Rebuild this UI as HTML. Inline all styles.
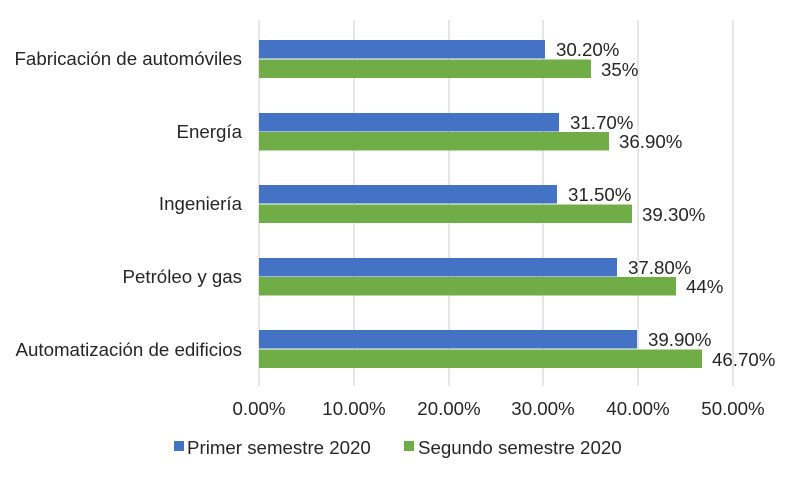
<!DOCTYPE html>
<html><head><meta charset="utf-8"><style>
body{margin:0;background:#fff;}
svg text{font-family:"Liberation Sans",Arial,sans-serif;fill:#262626;}
</style></head><body>
<svg width="788" height="477" viewBox="0 0 788 477" xmlns="http://www.w3.org/2000/svg">
<rect width="788" height="477" fill="#fff"/>
<g stroke="#d9d9d9" stroke-width="1.3">
<line x1="259" y1="20" x2="259" y2="386"/>
<line x1="354" y1="20" x2="354" y2="386"/>
<line x1="449" y1="20" x2="449" y2="386"/>
<line x1="543" y1="20" x2="543" y2="386"/>
<line x1="638" y1="20" x2="638" y2="386"/>
<line x1="733" y1="20" x2="733" y2="386"/>
</g>
<g>
<rect x="259" y="40" width="286" height="18.5" fill="#4472C4"/>
<rect x="259" y="59.5" width="332" height="18.5" fill="#70AD47"/>
<rect x="259" y="113" width="300" height="18.5" fill="#4472C4"/>
<rect x="259" y="132" width="350" height="18.5" fill="#70AD47"/>
<rect x="259" y="185" width="298" height="18.5" fill="#4472C4"/>
<rect x="259" y="204.5" width="373" height="18.5" fill="#70AD47"/>
<rect x="259" y="258" width="358" height="18.5" fill="#4472C4"/>
<rect x="259" y="277" width="417" height="18.5" fill="#70AD47"/>
<rect x="259" y="330" width="378" height="18.5" fill="#4472C4"/>
<rect x="259" y="349.5" width="443" height="18.5" fill="#70AD47"/>
</g>
<g font-size="18.7">
<text x="556" y="56">30.20%</text>
<text x="601" y="76">35%</text>
<text x="570" y="129">31.70%</text>
<text x="619" y="148">36.90%</text>
<text x="568" y="201">31.50%</text>
<text x="642" y="221">39.30%</text>
<text x="628" y="274">37.80%</text>
<text x="686" y="293">44%</text>
<text x="648" y="346">39.90%</text>
<text x="712" y="366">46.70%</text>
</g>
<g font-size="18.7" text-anchor="end">
<text x="242" y="65">Fabricación de automóviles</text>
<text x="242" y="138">Energía</text>
<text x="242" y="210">Ingeniería</text>
<text x="242" y="283">Petróleo y gas</text>
<text x="242" y="356">Automatización de edificios</text>
</g>
<g font-size="18.7" text-anchor="middle">
<text x="259" y="415">0.00%</text>
<text x="354" y="415">10.00%</text>
<text x="449" y="415">20.00%</text>
<text x="543" y="415">30.00%</text>
<text x="638" y="415">40.00%</text>
<text x="733" y="415">50.00%</text>
</g>
<rect x="174" y="441" width="10" height="10" fill="#4472C4"/>
<text x="187" y="454" font-size="18.7">Primer semestre 2020</text>
<rect x="404" y="441" width="10" height="10" fill="#70AD47"/>
<text x="418" y="454" font-size="18.7">Segundo semestre 2020</text>
</svg>
</body></html>
